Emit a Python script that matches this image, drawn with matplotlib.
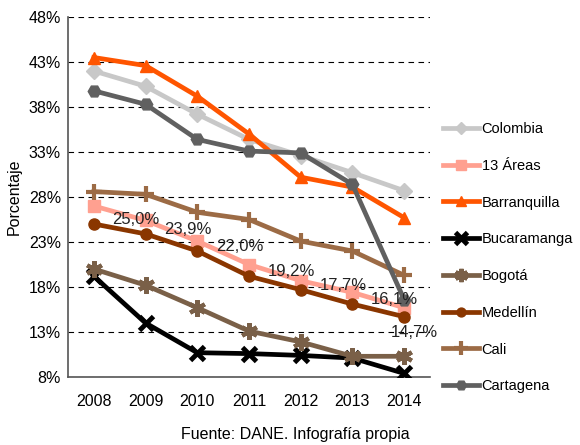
import matplotlib.pyplot as plt

plt.rcParams['font.family'] = ['Liberation Sans', 'DejaVu Sans']

years = [2008, 2009, 2010, 2011, 2012, 2013, 2014]

colombia = [42.0, 40.3, 37.2, 34.4, 32.6, 30.7, 28.7]
areas13 = [27.0, 25.4, 23.1, 20.5, 18.7, 17.4, 15.7]
barranquilla = [43.5, 42.6, 39.2, 35.0, 30.2, 29.1, 25.7]
bucaramanga = [19.2, 14.0, 10.7, 10.6, 10.4, 10.1, 8.4]
bogota = [20.0, 18.2, 15.7, 13.1, 11.9, 10.3, 10.3]
medellin = [25.0, 23.9, 22.0, 19.2, 17.7, 16.1, 14.7]
cali = [28.6, 28.3, 26.3, 25.5, 23.1, 22.0, 19.3]
cartagena = [39.8, 38.3, 34.4, 33.1, 32.9, 29.4, 16.6]

medellin_labels = ["25,0%", "23,9%", "22,0%", "19,2%", "17,7%", "16,1%", "14,7%"]
yticks = [8, 13, 18, 23, 28, 33, 38, 43, 48]

fig = plt.figure(figsize=(5.8, 4.45), dpi=100)
ax = fig.add_axes([68/580, 1-377/445, (430-68)/580, (377-17)/445])

# (name, data, color, marker, size, mew)
series = [
    ("Colombia", colombia, "#c8c8c8", "D", 8, 1),
    ("13 Áreas", areas13, "#ffa090", "s", 9, 1),
    ("Barranquilla", barranquilla, "#ff5500", "^", 9, 1),
    ("Bucaramanga", bucaramanga, "#000000", "x", 10, 3.5),
    ("Bogotá", bogota, "#7a6048", (6, 2, 0), 12, 3),
    ("Medellín", medellin, "#8a3600", "o", 8, 1),
    ("Cali", cali, "#9c6b45", "+", 12, 3),
    ("Cartagena", cartagena, "#606060", "H", 9, 1),
]

for name, vals, col, mk, ms, mew in series:
    ax.plot(years, vals, color=col, lw=3.4, marker=mk, ms=ms, mew=mew,
            mec=col, mfc=col, label=name, zorder=3)

# data labels for Medellin
for i in range(len(years)):
    if i < 6:
        ax.text(years[i] + 0.36, medellin[i] + 0.5, medellin_labels[i],
                fontsize=12, color="#222222", ha="left", va="center", zorder=4)
    else:
        ax.text(years[i] + 0.2, medellin[i] - 1.75, medellin_labels[i],
                fontsize=12, color="#222222", ha="center", va="center", zorder=4)

ax.set_xlim(2007.5, 2014.5)
ax.set_ylim(8, 48)
ax.set_yticks(yticks)
ax.set_yticklabels([str(t) + "%" for t in yticks])
ax.set_xticks(years)
ax.tick_params(labelsize=11.5, length=0)
ax.tick_params(axis="y", pad=5)
ax.tick_params(axis="x", pad=12)
ax.yaxis.grid(True, color="black", linestyle=(0, (5, 4)), lw=0.8)
ax.set_axisbelow(True)
for s in ["top", "right"]:
    ax.spines[s].set_visible(False)
ax.spines["left"].set_color("#555555")
ax.spines["bottom"].set_color("#555555")
ax.spines["left"].set_linewidth(1.2)
ax.spines["bottom"].set_linewidth(1.2)
ax.set_ylabel("Porcentaje", fontsize=11.5, labelpad=5)

leg = ax.legend(loc="upper left", bbox_to_anchor=(443/580, 1-122/445),
                bbox_transform=fig.transFigure, frameon=False, fontsize=10.5,
                handlelength=2.5, labelspacing=1.56, handletextpad=0.15,
                borderaxespad=0, borderpad=0, markerscale=0.8)

fig.text(0.51, 1-435/445, "Fuente: DANE. Infografía propia", ha="center",
         va="center", fontsize=11.5)

fig.savefig("out.png", dpi=100)
